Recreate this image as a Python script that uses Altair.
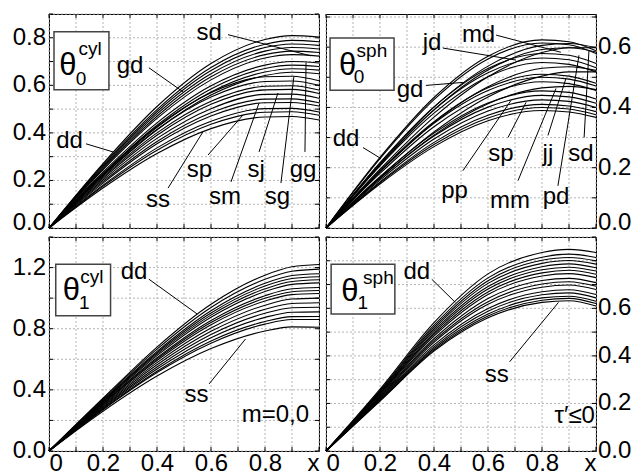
import altair as alt
import pandas as pd

FONT = "Liberation Sans"

# x positions at which each curve's value was read
X = [0.0, 0.2, 0.4, 0.6, 0.8, 0.9, 1.0]
X_GRID = [0.0, 0.1, 0.2, 0.3, 0.4, 0.5, 0.6, 0.7, 0.8, 0.9, 1.0]
X_LABELS = [0.0, 0.2, 0.4, 0.6, 0.8, 1.0]

# ---------------- theta_0 cyl (top left) ----------------
TL_CURVES = [
    [0, .271, .511, .692, .793, .809, .803],
    [0, .265, .498, .675, .773, .789, .783],
    [0, .260, .489, .662, .759, .774, .768],
    [0, .255, .480, .649, .744, .759, .753],
    [0, .250, .470, .636, .729, .744, .738],
    [0, .245, .461, .623, .715, .729, .723],
    [0, .235, .442, .598, .685, .700, .694],
    [0, .229, .432, .585, .671, .685, .679],
    [0, .224, .423, .572, .656, .670, .664],
    [0, .219, .413, .559, .641, .655, .649],
    [0, .228, .427, .569, .636, .638, .619],
    [0, .221, .414, .551, .616, .618, .600],
    [0, .214, .400, .533, .596, .598, .580],
    [0, .209, .390, .520, .581, .583, .566],
    [0, .202, .377, .502, .562, .563, .546],
    [0, .195, .364, .485, .542, .543, .527],
    [0, .189, .354, .471, .527, .528, .513],
    [0, .180, .337, .449, .502, .503, .488],
    [0, .175, .327, .436, .487, .489, .474],
    [0, .168, .313, .418, .467, .469, .454],
]
TL_Y_GRID = [0.0, 0.1, 0.2, 0.3, 0.4, 0.5, 0.6, 0.7, 0.8, 0.9]
TL_Y_LABELS = [0.2, 0.4, 0.6, 0.8]
TL_LAB_TEXT = ["sd", "gd", "dd", "ss", "sp", "sm", "sj", "sg", "gg"]
TL_LAB_X = [0.593, 0.300, 0.076, 0.404, 0.557, 0.652, 0.767, 0.846, 0.941]
TL_LAB_Y = [0.790, 0.651, 0.336, 0.090, 0.216, 0.101, 0.216, 0.101, 0.216]
TL_LEAD_X1 = [0.663, 0.370, 0.137, 0.441, 0.589, 0.674, 0.778, 0.859, 0.948]
TL_LEAD_Y1 = [0.813, 0.674, 0.354, 0.168, 0.307, 0.194, 0.320, 0.189, 0.320]
TL_LEAD_X2 = [0.970, 0.496, 0.237, 0.570, 0.719, 0.778, 0.848, 0.907, 0.952]
TL_LEAD_Y2 = [0.724, 0.573, 0.320, 0.404, 0.476, 0.526, 0.568, 0.636, 0.695]
TL_BOX = [0.0185, 0.222, 0.581, 0.825]
TL_THETA = [0.070, 0.644]
TL_SUP = ["cyl", 0.152, 0.728]
TL_SUB = ["0", 0.119, 0.602]

# ---------------- theta_0 sph (top right) ----------------
TR_CURVES = [
    [0, .234, .433, .570, .624, .618, .588],
    [0, .214, .401, .537, .606, .612, .598],
    [0, .195, .368, .502, .582, .598, .598],
    [0, .230, .426, .561, .614, .608, .579],
    [0, .209, .392, .524, .592, .598, .584],
    [0, .217, .402, .529, .579, .573, .546],
    [0, .211, .392, .515, .564, .558, .532],
    [0, .206, .381, .502, .549, .543, .518],
    [0, .187, .350, .469, .530, .535, .523],
    [0, .169, .319, .435, .504, .518, .518],
    [0, .191, .353, .465, .510, .504, .480],
    [0, .187, .347, .456, .500, .494, .471],
    [0, .181, .336, .442, .485, .479, .456],
    [0, .164, .308, .412, .465, .470, .459],
    [0, .170, .315, .415, .455, .450, .428],
    [0, .165, .305, .401, .440, .435, .414],
    [0, .159, .295, .388, .425, .420, .400],
    [0, .153, .284, .374, .410, .405, .386],
    [0, .150, .277, .365, .400, .395, .376],
    [0, .146, .270, .356, .390, .385, .367],
]
TR_Y_GRID = [0.0, 0.1, 0.2, 0.3, 0.4, 0.5, 0.6, 0.7]
TR_Y_LABELS = [0.2, 0.4, 0.6]
TR_LAB_TEXT = ["md", "jd", "gd", "dd", "pp", "sp", "mm", "jj", "pd", "sd"]
TR_LAB_X = [0.565, 0.393, 0.311, 0.074, 0.476, 0.648, 0.681, 0.822, 0.852, 0.944]
TR_LAB_Y = [0.618, 0.590, 0.434, 0.273, 0.101, 0.223, 0.068, 0.223, 0.079, 0.223]
TR_LEAD_X1 = [0.630, 0.433, 0.370, 0.137, 0.507, 0.674, 0.711, 0.822, 0.859, 0.956]
TR_LEAD_Y1 = [0.640, 0.597, 0.473, 0.267, 0.190, 0.300, 0.157, 0.307, 0.140, 0.300]
TR_LEAD_X2 = [0.870, 0.704, 0.507, 0.204, 0.685, 0.741, 0.852, 0.889, 0.937, 0.974]
TR_LEAD_Y2 = [0.583, 0.557, 0.483, 0.230, 0.423, 0.417, 0.463, 0.497, 0.573, 0.590]
TR_BOX = [0.015, 0.252, 0.457, 0.630]
TR_THETA = [0.080, 0.507]
TR_SUP = ["sph", 0.170, 0.567]
TR_SUB = ["0", 0.122, 0.480]

# ---------------- theta_1 cyl (bottom left) ----------------
BL_CURVES = [
    [0, .345, .680, .960, 1.150, 1.205, 1.22],
    [0, .339, .666, .939, 1.123, 1.176, 1.19],
    [0, .333, .652, .918, 1.097, 1.148, 1.16],
    [0, .328, .643, .903, 1.079, 1.128, 1.14],
    [0, .324, .634, .889, 1.061, 1.109, 1.12],
    [0, .320, .624, .875, 1.043, 1.090, 1.10],
    [0, .314, .610, .854, 1.016, 1.061, 1.07],
    [0, .310, .601, .840, 0.999, 1.042, 1.05],
    [0, .306, .592, .826, 0.981, 1.023, 1.03],
    [0, .299, .578, .804, 0.954, 0.994, 1.00],
    [0, .293, .564, .783, 0.927, 0.965, 0.97],
    [0, .287, .550, .762, 0.901, 0.937, 0.94],
    [0, .281, .536, .741, 0.874, 0.908, 0.91],
    [0, .275, .522, .720, 0.847, 0.879, 0.88],
    [0, .270, .513, .705, 0.830, 0.860, 0.86],
    [0, .260, .490, .670, 0.785, 0.812, 0.81],
]
BL_Y_GRID = [0.0, 0.2, 0.4, 0.6, 0.8, 1.0, 1.2, 1.4]
BL_Y_LABELS = [0.4, 0.8, 1.2]
BL_LAB_TEXT = ["dd", "ss"]
BL_LAB_X = [0.315, 0.546]
BL_LAB_Y = [1.124, 0.320]
BL_LEAD_X1 = [0.370, 0.593]
BL_LEAD_Y1 = [1.124, 0.439]
BL_LEAD_X2 = [0.549, 0.728]
BL_LEAD_Y2 = [0.896, 0.733]
BL_BOX = [0.025, 0.228, 0.885, 1.222]
BL_THETA = [0.083, 0.990]
BL_SUP = ["cyl", 0.159, 1.096]
BL_SUB = ["1", 0.131, 0.928]
BL_NOTE = ["m=0,0", 0.963, 0.190]

# ---------------- theta_1 sph (bottom right) ----------------
BR_CURVES = [
    [0, .260, .540, .745, .835, .848, .835],
    [0, .255, .529, .728, .815, .828, .814],
    [0, .252, .521, .716, .802, .814, .800],
    [0, .249, .514, .705, .789, .801, .786],
    [0, .246, .506, .692, .775, .787, .771],
    [0, .243, .498, .681, .762, .773, .757],
    [0, .240, .491, .669, .749, .760, .743],
    [0, .236, .483, .658, .736, .746, .729],
    [0, .232, .472, .641, .717, .726, .708],
    [0, .228, .464, .628, .702, .712, .693],
    [0, .225, .457, .617, .689, .698, .679],
    [0, .221, .446, .599, .670, .678, .658],
    [0, .218, .438, .588, .657, .665, .644],
    [0, .214, .431, .576, .644, .651, .630],
    [0, .212, .425, .568, .634, .642, .620],
    [0, .210, .420, .560, .625, .632, .610],
]
BR_Y_GRID = [0.0, 0.1, 0.2, 0.3, 0.4, 0.5, 0.6, 0.7, 0.8, 0.9]
BR_Y_LABELS = [0.2, 0.4, 0.6]
BR_LAB_TEXT = ["dd", "ss"]
BR_LAB_X = [0.336, 0.632]
BR_LAB_Y = [0.722, 0.292]
BR_LEAD_X1 = [0.392, 0.680]
BR_LEAD_Y1 = [0.722, 0.375]
BR_LEAD_X2 = [0.479, 0.861]
BR_LEAD_Y2 = [0.625, 0.625]
BR_BOX = [0.019, 0.255, 0.576, 0.785]
BR_THETA = [0.088, 0.632]
BR_SUP = ["sph", 0.194, 0.704]
BR_SUB = ["1", 0.136, 0.597]
BR_NOTE = ["\u03c4\u2032\u22640", 0.996, 0.118]

ZERO_LABEL = [0.0]
GRID_COLOR = "#b4b4b4"
XLAB = "datum.value > 0.95 ? 'x' : (datum.value < 0.05 ? '0' : format(datum.value, '.1f'))"


def curve_frame(curves):
    rows = []
    for i, ys in enumerate(curves):
        for x, y in zip(X, ys):
            rows.append({"x": x, "y": y, "c": i})
    return pd.DataFrame(rows)


def ytext(values, ysc, orient, w, dy, name):
    df = pd.DataFrame({"v": values, "t": ["%.1f" % v for v in values],
                       "panel": [name] * len(values)})
    if orient == "left":
        return alt.Chart(df).mark_text(
            font=FONT, fontSize=24, color="black", align="right", baseline="middle",
            dx=-3, dy=dy
        ).encode(x=alt.value(0), y=alt.Y("v:Q", scale=ysc, axis=None), text="t:N")
    return alt.Chart(df).mark_text(
        font=FONT, fontSize=24, color="black", align="left", baseline="middle",
        dx=2, dy=dy
    ).encode(x=alt.value(w), y=alt.Y("v:Q", scale=ysc, axis=None), text="t:N")


def panel(name, curves, ymax, ygrid, ylabels, orient, show_x, w, h,
          lab_text, lab_x, lab_y, l_x1, l_y1, l_x2, l_y2,
          box, theta, sup, sub, note=None):
    xsc = alt.Scale(domain=[0, 1], nice=False, zero=False)
    ysc = alt.Scale(domain=[0, ymax], nice=False, zero=False)
    if show_x:
        xaxis = alt.Axis(values=X_LABELS, grid=False, labelExpr=XLAB, labelFlush=True,
                         labelOverlap=False, ticks=False, domain=False, title=None,
                         labelPadding=0)
    else:
        xaxis = None

    tx = pd.DataFrame({"x": X_GRID})
    ty = pd.DataFrame({"y": ygrid})
    grid_x = alt.Chart(tx).mark_rule(color=GRID_COLOR, strokeDash=[2, 2], strokeWidth=1).encode(
        x=alt.X("x:Q", scale=xsc, axis=None))
    grid_y = alt.Chart(ty).mark_rule(color=GRID_COLOR, strokeDash=[2, 2], strokeWidth=1).encode(
        y=alt.Y("y:Q", scale=ysc, axis=None))

    lines = alt.Chart(curve_frame(curves)).mark_line(
        color="black", strokeWidth=1.1, interpolate="monotone"
    ).encode(
        x=alt.X("x:Q", scale=xsc, axis=xaxis),
        y=alt.Y("y:Q", scale=ysc, axis=None),
        detail="c:N",
    )

    # y tick labels through the y scale, just outside the frame; the "0.0" of the
    # upper row is nudged up a little so that the rows keep a narrow gap
    ylab = ytext(ylabels, ysc, orient, w, 0, name)
    ylab0 = ytext(ZERO_LABEL, ysc, orient, w, (0 if show_x else -5), name + "0")

    tick_b = alt.Chart(tx).mark_rule(color="black").encode(
        x=alt.X("x:Q", scale=xsc, axis=None), y=alt.value(h), y2=alt.value(h - 4))
    tick_t = alt.Chart(tx).mark_rule(color="black").encode(
        x=alt.X("x:Q", scale=xsc, axis=None), y=alt.value(0), y2=alt.value(4))
    tick_l = alt.Chart(ty).mark_rule(color="black").encode(
        y=alt.Y("y:Q", scale=ysc, axis=None), x=alt.value(0), x2=alt.value(4))
    tick_r = alt.Chart(ty).mark_rule(color="black").encode(
        y=alt.Y("y:Q", scale=ysc, axis=None), x=alt.value(w), x2=alt.value(w - 4))

    lead_df = pd.DataFrame({"x1": l_x1, "y1": l_y1, "x2": l_x2, "y2": l_y2})
    leaders = alt.Chart(lead_df).mark_rule(color="black", strokeWidth=1).encode(
        x=alt.X("x1:Q", scale=xsc, axis=None), y=alt.Y("y1:Q", scale=ysc, axis=None),
        x2="x2:Q", y2="y2:Q")

    lab_df = pd.DataFrame({"t": lab_text, "x": lab_x, "y": lab_y})
    labels = alt.Chart(lab_df).mark_text(
        font=FONT, fontSize=24, color="black", align="center", baseline="alphabetic"
    ).encode(x=alt.X("x:Q", scale=xsc, axis=None), y=alt.Y("y:Q", scale=ysc, axis=None),
             text="t:N")

    box_df = pd.DataFrame({"x1": [box[0]], "x2": [box[1]], "y1": [box[2]], "y2": [box[3]]})
    boxm = alt.Chart(box_df).mark_rect(fill="white", stroke="#444444", strokeWidth=1.5).encode(
        x=alt.X("x1:Q", scale=xsc, axis=None), x2="x2:Q",
        y=alt.Y("y1:Q", scale=ysc, axis=None), y2="y2:Q")

    th_df = pd.DataFrame({"t": ["\u03b8"], "x": [theta[0]], "y": [theta[1]]})
    thm = alt.Chart(th_df).mark_text(
        font=FONT, fontSize=31, color="black", align="center", baseline="alphabetic"
    ).encode(x=alt.X("x:Q", scale=xsc, axis=None), y=alt.Y("y:Q", scale=ysc, axis=None),
             text="t:N")
    ss_df = pd.DataFrame({"t": [sup[0], sub[0]], "x": [sup[1], sub[1]], "y": [sup[2], sub[2]]})
    ssm = alt.Chart(ss_df).mark_text(
        font=FONT, fontSize=19, color="black", align="center", baseline="alphabetic"
    ).encode(x=alt.X("x:Q", scale=xsc, axis=None), y=alt.Y("y:Q", scale=ysc, axis=None),
             text="t:N")

    layers = [grid_x, grid_y, lines, tick_b, tick_t, tick_l, tick_r, leaders, labels,
              boxm, thm, ssm]
    if note is not None:
        note_df = pd.DataFrame({"t": [note[0]], "x": [note[1]], "y": [note[2]]})
        layers.append(alt.Chart(note_df).mark_text(
            font=FONT, fontSize=24, color="black", align="right", baseline="alphabetic"
        ).encode(x=alt.X("x:Q", scale=xsc, axis=None), y=alt.Y("y:Q", scale=ysc, axis=None),
                 text="t:N"))
    layers += [ylab, ylab0]
    return alt.layer(*layers).resolve_axis(x="independent", y="independent").properties(
        width=w, height=h)


tl = panel("tl", TL_CURVES, 0.9, TL_Y_GRID, TL_Y_LABELS, "left", False, 270, 214,
           TL_LAB_TEXT, TL_LAB_X, TL_LAB_Y, TL_LEAD_X1, TL_LEAD_Y1, TL_LEAD_X2, TL_LEAD_Y2,
           TL_BOX, TL_THETA, TL_SUP, TL_SUB)
tr = panel("tr", TR_CURVES, 0.71, TR_Y_GRID, TR_Y_LABELS, "right", False, 270, 214,
           TR_LAB_TEXT, TR_LAB_X, TR_LAB_Y, TR_LEAD_X1, TR_LEAD_Y1, TR_LEAD_X2, TR_LEAD_Y2,
           TR_BOX, TR_THETA, TR_SUP, TR_SUB)
bl = panel("bl", BL_CURVES, 1.4, BL_Y_GRID, BL_Y_LABELS, "left", True, 270, 214,
           BL_LAB_TEXT, BL_LAB_X, BL_LAB_Y, BL_LEAD_X1, BL_LEAD_Y1, BL_LEAD_X2, BL_LEAD_Y2,
           BL_BOX, BL_THETA, BL_SUP, BL_SUB, BL_NOTE)
br = panel("br", BR_CURVES, 0.9, BR_Y_GRID, BR_Y_LABELS, "right", True, 270, 214,
           BR_LAB_TEXT, BR_LAB_X, BR_LAB_Y, BR_LEAD_X1, BR_LEAD_Y1, BR_LEAD_X2, BR_LEAD_Y2,
           BR_BOX, BR_THETA, BR_SUP, BR_SUB, BR_NOTE)

chart = alt.vconcat(
    alt.hconcat(tl, tr, spacing=7, bounds="flush"),
    alt.hconcat(bl, br, spacing=7, bounds="flush"),
    spacing=0,
).properties(
    padding={"left": 12, "top": 13, "right": 3, "bottom": 0},
    background="white",
).configure_view(
    stroke="black", strokeWidth=1
).configure_axis(
    labelFont=FONT, labelFontSize=24, labelColor="black"
)

chart.save("out.html", embed_options={"renderer": "svg", "actions": False})
